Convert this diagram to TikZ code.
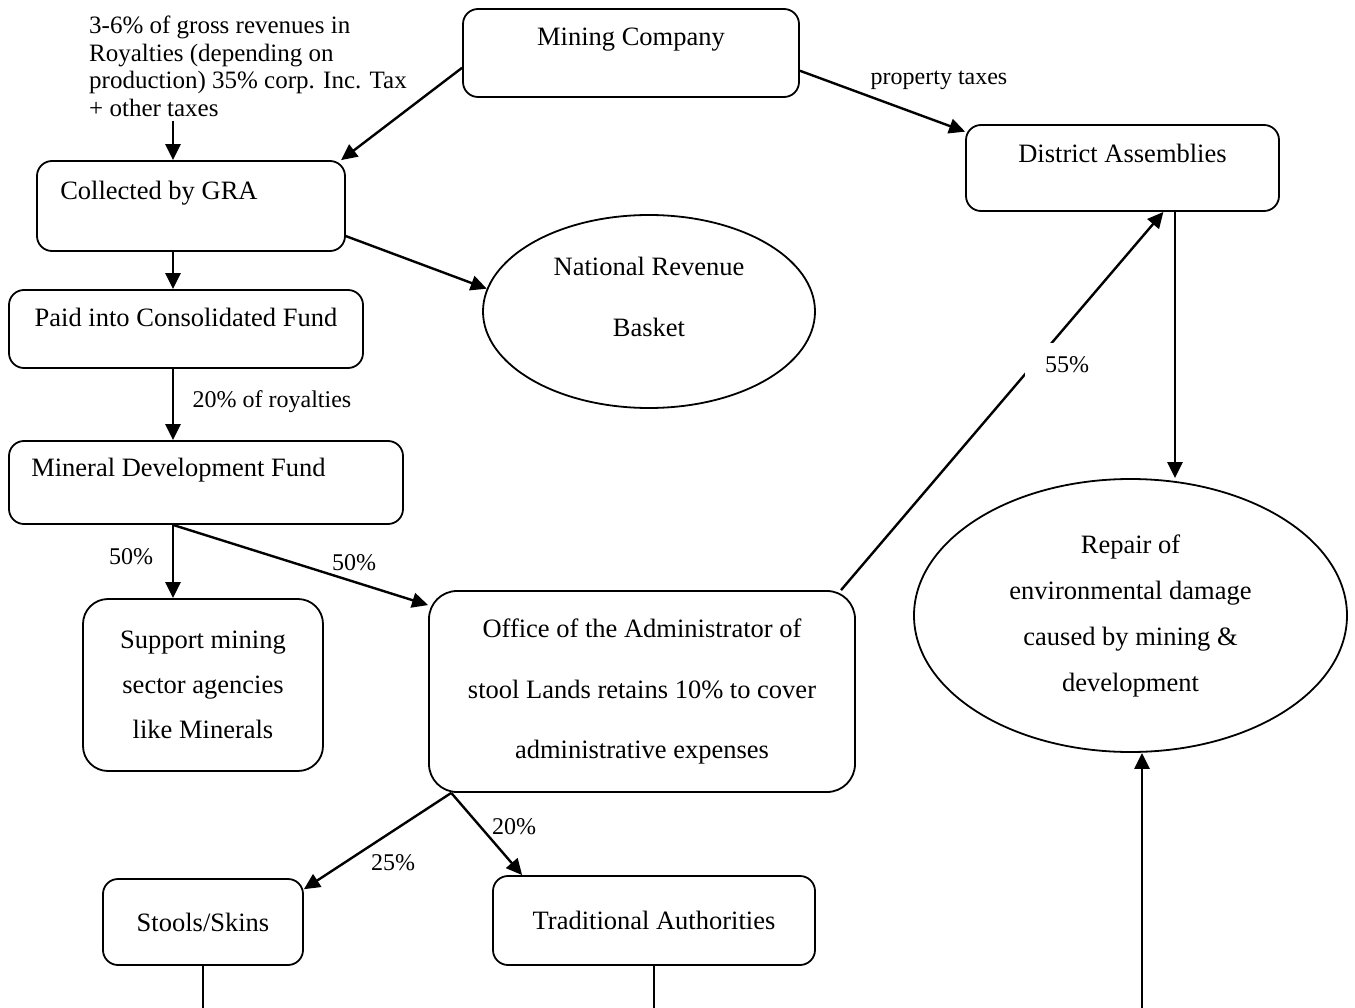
\documentclass[tikz,border=0pt]{standalone}
\usepackage{fontspec}
\setmainfont{Liberation Serif}
\usetikzlibrary{arrows.meta,positioning,shapes.geometric}

\begin{document}
\begin{tikzpicture}[x=1pt,y=-1pt,
  box/.style={draw,rounded corners=15pt,line width=1.8pt,inner sep=0pt,align=center,font=\fontsize{26.5pt}{32pt}\selectfont},
  oval/.style={draw,ellipse,line width=1.8pt,inner sep=0pt,align=center},
  flow/.style={line width=2.4pt,-{Triangle[length=16pt,width=15pt]}},
  lbl/.style={font=\fontsize{24pt}{27pt}\selectfont,inner sep=0pt},
  every label/.style={inner sep=0pt,font=\fontsize{26.5pt}{61pt}\selectfont}]
\useasboundingbox (0,0) rectangle (1355,1008);
\coordinate (spine) at (173,0);
\coordinate (damx) at (1175,0);
\coordinate (stoolsend) at (203,1008);
\coordinate (tradend) at (654,1008);
\coordinate (upx) at (1142,1008);

\node[box,minimum width=336pt,minimum height=88pt,label={[anchor=base,yshift=-37.5pt]north:Mining Company}] (mining) at (631,53) {};
\node[lbl,font=\fontsize{25pt}{27.5pt}\selectfont,align=left,anchor=north west] (note) at (89,16) {3-6\% of gross revenues in\\Royalties (depending on\\production) 35\% corp. Inc. Tax\\+ other taxes};
\node[box,minimum width=308pt,minimum height=90pt,label={[anchor=base west,xshift=24pt,yshift=-39pt]north west:Collected by GRA}] (gra) at (191,206) {};
\node[box,minimum width=354pt,minimum height=78pt,label={[anchor=base,yshift=-37pt]north:Paid into Consolidated Fund}] (paid) at (186,329) {};
\node[box,minimum width=394pt,minimum height=83pt,label={[anchor=base west,xshift=23pt,yshift=-36pt]north west:Mineral Development Fund}] (mdf) at (206,482.5) {};
\node[box,minimum width=313pt,minimum height=86pt,label={[anchor=base,yshift=-38pt]north:District Assemblies}] (district) at (1122.5,168) {};
\node[oval,minimum width=332pt,minimum height=193pt,label={[anchor=north,yshift=-43pt,align=center]north:National Revenue\\Basket}] (nrb) at (649,311.5) {};
\node[box,rounded corners=25pt,minimum width=240pt,minimum height=172pt,font=\fontsize{26.5pt}{45pt}\selectfont] (support) at (203,685) {Support mining\\sector agencies\\like Minerals};
\node[box,rounded corners=28pt,minimum width=426pt,minimum height=201pt,font=\fontsize{26.5pt}{60.5pt}\selectfont] (office) at (642,691.5) {Office of the Administrator of\\stool Lands retains 10\% to cover\\administrative expenses};
\node[oval,minimum width=433pt,minimum height=273pt,font=\fontsize{26.5pt}{46pt}\selectfont] (repair) at (1130.5,615.5) {Repair of\\environmental damage\\caused by mining \&\\development};
\node[box,minimum width=200pt,minimum height=86pt] (stools) at (203,922) {Stools/Skins};
\node[box,minimum width=322pt,minimum height=89pt] (trad) at (654,920.5) {Traditional Authorities};

\draw[flow] (mining.185) -- (gra.17.5);
\draw[flow] ([yshift=-4pt]note.south -| spine) -- (gra.north -| spine);
\draw[flow] (mining.-6) -- (district.167);
\node[lbl] (ptax) at (939,80) {property taxes};
\draw[flow] (gra.-11) -- (nrb.172);
\draw[flow] (gra.south -| spine) -- (paid.north -| spine);
\draw[flow] (paid.south -| spine) -- (mdf.north -| spine);
\node[lbl] (royal) at (272,402) {20\% of royalties};
\draw[flow] (mdf.south -| spine) -- (support.north -| spine);
\node[lbl] (halfa) at (131,557) {50\%};
\draw[flow] (mdf.south -| spine) -- (office.158);
\node[lbl] (halfb) at (354,563) {50\%};
\draw[flow] (office.27) -- (district.-47);
\node[lbl,fill=white,inner xsep=20pt,inner ysep=14pt] (share) at (1067,365) {55\%};
\draw[flow] (district.south -| damx) -- (repair.north -| damx);
\draw[flow] (office.208) -- (stools.18);
\node[lbl] (stoolpct) at (393,863) {25\%};
\draw[flow] (office.208) -- (trad.161);
\node[lbl] (tradpct) at (514,827) {20\%};
\draw[line width=1.8pt] (stools.south) -- (stoolsend);
\draw[line width=1.8pt] (trad.south) -- (tradend);
\draw[flow] (upx) -- (repair.south -| upx);
\end{tikzpicture}
\end{document}
